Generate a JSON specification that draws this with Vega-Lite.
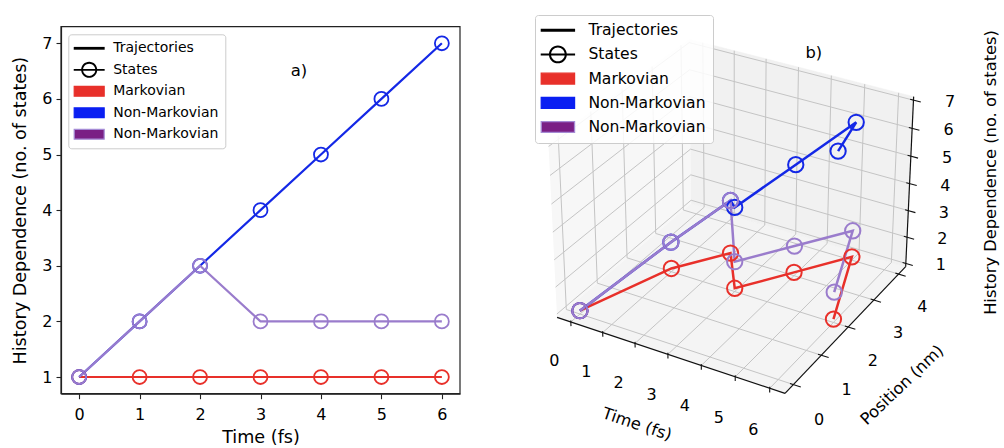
{
  "$schema": "https://vega.github.io/schema/vega-lite/v6.json",
  "width": 1004,
  "height": 448,
  "autosize": {"type": "none"},
  "padding": 0,
  "background": "#ffffff",
  "config": {
    "font": "DejaVu Sans",
    "view": {"stroke": null},
    "legend": {"labelFont": "DejaVu Sans", "labelColor": "#000000", "labelLimit": 400, "gridAlign": "all"}
  },
  "datasets": {
    "traj": [
      {"series": "Markovian", "time": 0, "pos": 0, "hist": 1},
      {"series": "Markovian", "time": 1, "pos": 2, "hist": 1},
      {"series": "Markovian", "time": 2, "pos": 3, "hist": 1},
      {"series": "Markovian", "time": 3, "pos": 2, "hist": 1},
      {"series": "Markovian", "time": 4, "pos": 3, "hist": 1},
      {"series": "Markovian", "time": 5, "pos": 4, "hist": 1},
      {"series": "Markovian", "time": 6, "pos": 2, "hist": 1},
      {"series": "Non-Markovian", "time": 0, "pos": 0, "hist": 1},
      {"series": "Non-Markovian", "time": 1, "pos": 2, "hist": 2},
      {"series": "Non-Markovian", "time": 2, "pos": 3, "hist": 3},
      {"series": "Non-Markovian", "time": 3, "pos": 2, "hist": 4},
      {"series": "Non-Markovian", "time": 4, "pos": 3, "hist": 5},
      {"series": "Non-Markovian", "time": 5, "pos": 4, "hist": 6},
      {"series": "Non-Markovian", "time": 6, "pos": 2, "hist": 7},
      {"series": "Non-Markovian 2", "time": 0, "pos": 0, "hist": 1},
      {"series": "Non-Markovian 2", "time": 1, "pos": 2, "hist": 2},
      {"series": "Non-Markovian 2", "time": 2, "pos": 3, "hist": 3},
      {"series": "Non-Markovian 2", "time": 3, "pos": 2, "hist": 2},
      {"series": "Non-Markovian 2", "time": 4, "pos": 3, "hist": 2},
      {"series": "Non-Markovian 2", "time": 5, "pos": 4, "hist": 2},
      {"series": "Non-Markovian 2", "time": 6, "pos": 2, "hist": 2}
    ],
    "ticks": [
      {"axis": "t", "v": 0}, {"axis": "t", "v": 1}, {"axis": "t", "v": 2}, {"axis": "t", "v": 3},
      {"axis": "t", "v": 4}, {"axis": "t", "v": 5}, {"axis": "t", "v": 6},
      {"axis": "p", "v": 0}, {"axis": "p", "v": 1}, {"axis": "p", "v": 2}, {"axis": "p", "v": 3}, {"axis": "p", "v": 4},
      {"axis": "z", "v": 1}, {"axis": "z", "v": 2}, {"axis": "z", "v": 3}, {"axis": "z", "v": 4},
      {"axis": "z", "v": 5}, {"axis": "z", "v": 6}, {"axis": "z", "v": 7}
    ],
    "panes": [{"pane": "floor"}, {"pane": "wallx"}, {"pane": "wally"}],
    "axes3d": [{"axis": "t"}, {"axis": "p"}, {"axis": "z"}],
    "titles3d": [
      {"text": "Time (fs)", "axis": "t"},
      {"text": "Position (nm)", "axis": "p"},
      {"text": "History Dependence (no. of states)", "axis": "z"},
      {"text": "b)", "axis": "label"}
    ]
  },
  "layer": [
    {
      "data": {"name": "traj"},
      "layer": [
        {
          "data": {"values": [{}]},
          "mark": {"type": "rect", "filled": false, "color": "#222222", "strokeWidth": 1.2},
          "encoding": {
            "x": {"datum": -0.3, "type": "quantitative",
              "scale": {"domain": [-0.3, 6.3], "range": [61, 460], "nice": false, "zero": false},
              "axis": {"title": "Time (fs)", "values": [0, 1, 2, 3, 4, 5, 6], "format": "d", "offset": -54.3, "grid": false, "domainColor": "#222222", "domainWidth": 1.2, "tickColor": "#222222", "tickWidth": 1.1, "tickSize": 5, "labelFontSize": 16, "labelColor": "#000000", "labelPadding": 7.5, "labelFlush": false, "labelOverlap": false, "titleFontSize": 17.6, "titleFontWeight": "normal", "titleColor": "#000000", "titlePadding": 6.5}},
            "x2": {"datum": 6.3},
            "y": {"datum": 0.7, "type": "quantitative",
              "scale": {"domain": [0.7, 7.3], "range": [393.7, 26.6], "nice": false, "zero": false},
              "axis": {"title": "History Dependence (no. of states)", "values": [1, 2, 3, 4, 5, 6, 7], "format": "d", "offset": -61, "grid": false, "domainColor": "#222222", "domainWidth": 1.2, "tickColor": "#222222", "tickWidth": 1.1, "tickSize": 5, "labelFontSize": 16, "labelColor": "#000000", "labelPadding": 4, "labelOverlap": false, "titleFontSize": 17.6, "titleFontWeight": "normal", "titleColor": "#000000", "titlePadding": 12.5}},
            "y2": {"datum": 7.3}
          }
        },
        {
          "mark": {"type": "line", "strokeWidth": 2.2},
          "encoding": {
            "x": {"field": "time", "type": "quantitative"},
            "y": {"field": "hist", "type": "quantitative"},
            "color": {"field": "series", "type": "nominal", "legend": null,
              "scale": {"domain": ["Markovian", "Non-Markovian", "Non-Markovian 2"], "range": ["#e8302a", "#1428e6", "#9a7ccc"]}},
            "order": {"field": "time"}
          }
        },
        {
          "mark": {"type": "point", "shape": "circle", "filled": false, "opacity": 1, "size": 195, "strokeWidth": 1.8},
          "encoding": {
            "x": {"field": "time", "type": "quantitative"},
            "y": {"field": "hist", "type": "quantitative"},
            "color": {"field": "series", "type": "nominal", "legend": null,
              "scale": {"domain": ["Markovian", "Non-Markovian", "Non-Markovian 2"], "range": ["#e8302a", "#1428e6", "#9a7ccc"]}}
          }
        },
        {
          "data": {"values": [{}]},
          "mark": {"type": "text", "align": "left", "baseline": "middle", "fontSize": 16.5, "color": "#000000"},
          "encoding": {
            "x": {"datum": 3.5, "type": "quantitative"},
            "y": {"datum": 6.5, "type": "quantitative"},
            "text": {"value": "a)"}
          }
        },
        {
          "transform": [{"filter": "false"}],
          "mark": {"type": "point", "opacity": 1},
          "encoding": {
            "fill": {"field": "series", "type": "nominal",
              "scale": {"domain": ["Trajectories", "States", "Markovian", "Non-Markovian", "Non-Markovian 2"], "range": ["#000000", "#000000", "#e8302a", "#0a1ff2", "#7a1f85"]},
              "legend": {"orient": "none", "legendX": 68.3, "legendY": 34.3, "title": null, "symbolSize": 196, "symbolStrokeWidth": 1.2, "symbolFillColor": "transparent", "symbolStrokeColor": "transparent", "labelFontSize": 14, "padding": 6, "rowPadding": -0.5, "labelOffset": 16, "symbolOffset": 6.9, "fillColor": "rgba(255,255,255,0.85)", "strokeColor": "#cccccc", "cornerRadius": 3, "labelExpr": "datum.label == 'Non-Markovian 2' ? 'Non-Markovian' : datum.label"}},
            "stroke": {"field": "series", "type": "nominal",
              "scale": {"domain": ["Trajectories", "States", "Markovian", "Non-Markovian", "Non-Markovian 2"], "range": ["transparent", "transparent", "#e8302a", "#0a1ff2", "#a58bd5"]},
              "legend": {"orient": "none", "legendX": 68.3, "legendY": 34.3, "title": null, "symbolSize": 196, "symbolStrokeWidth": 1.2, "symbolFillColor": "transparent", "symbolStrokeColor": "transparent", "labelFontSize": 14, "padding": 6, "rowPadding": -0.5, "labelOffset": 16, "symbolOffset": 6.9, "fillColor": "rgba(255,255,255,0.85)", "strokeColor": "#cccccc", "cornerRadius": 3, "labelExpr": "datum.label == 'Non-Markovian 2' ? 'Non-Markovian' : datum.label"}},
            "shape": {"field": "series", "type": "nominal",
              "scale": {"domain": ["Trajectories", "States", "Markovian", "Non-Markovian", "Non-Markovian 2"], "range": ["M-2.21,-0.2H2.21V0.2H-2.21Z", "M1.15,0A1.15,1.15 0 1,1 -1.15,0A1.15,1.15 0 1,1 1.15,0Z M0.88,0A0.88,0.88 0 1,0 -0.88,0A0.88,0.88 0 1,0 0.88,0Z M-2.21,-0.13H2.21V0.13H-2.21Z", "M-2.14,-0.7H2.14V0.7H-2.14Z", "M-2.14,-0.7H2.14V0.7H-2.14Z", "M-2.14,-0.7H2.14V0.7H-2.14Z"]},
              "legend": {"orient": "none", "legendX": 68.3, "legendY": 34.3, "title": null, "symbolSize": 196, "symbolStrokeWidth": 1.2, "symbolFillColor": "transparent", "symbolStrokeColor": "transparent", "labelFontSize": 14, "padding": 6, "rowPadding": -0.5, "labelOffset": 16, "symbolOffset": 6.9, "fillColor": "rgba(255,255,255,0.85)", "strokeColor": "#cccccc", "cornerRadius": 3, "labelExpr": "datum.label == 'Non-Markovian 2' ? 'Non-Markovian' : datum.label"}}
          }
        }
      ]
    },
    {
      "layer": [
        {
          "data": {"name": "panes"},
          "transform": [
            {"filter": "datum.pane == 'floor'"},
            {"calculate": "[0,1,2,3]", "as": "ks"},
            {"flatten": ["ks"], "as": ["k"]},
            {"calculate": "(datum.k == 1 || datum.k == 2) ? 6.4375 : -0.4375", "as": "time"},
            {"calculate": "datum.k >= 2 ? 4.2917 : -0.2917", "as": "pos"},
            {"calculate": "0.875", "as": "hist"},
            {"calculate": "(datum.time + 0.3) / 6.6 * 1.1905 - 0.59525", "as": "qx"},
            {"calculate": "(datum.pos + 0.2) / 4.4 * 1.1905 - 0.59525", "as": "qy"},
            {"calculate": "(datum.hist - 1) / 6 * 0.8929 - 0.44645", "as": "qz"},
            {"calculate": "10 - (0.4330127 * datum.qx - 0.75 * datum.qy + 0.5 * datum.qz)", "as": "den"},
            {"calculate": "(0.8660254 * datum.qx + 0.5 * datum.qy) / datum.den", "as": "px"},
            {"calculate": "(-0.25 * datum.qx + 0.4330127 * datum.qy + 0.8660254 * datum.qz) / datum.den", "as": "py"}
          ],
          "mark": {"type": "line", "fill": "#f4f4f4", "stroke": "#f4f4f4", "strokeWidth": 0.5},
          "encoding": {
            "x": {"field": "px", "type": "quantitative", "scale": {"domain": [-0.34903, 0.12793], "range": [0, 1004], "nice": false, "zero": false}, "axis": null},
            "y": {"field": "py", "type": "quantitative", "scale": {"domain": [-0.112535, 0.097007], "range": [448, 0], "nice": false, "zero": false}, "axis": null},
            "order": {"field": "k"}
          }
        },
        {
          "data": {"name": "panes"},
          "transform": [
            {"filter": "datum.pane == 'wallx'"},
            {"calculate": "[0,1,2,3]", "as": "ks"},
            {"flatten": ["ks"], "as": ["k"]},
            {"calculate": "-0.4375", "as": "time"},
            {"calculate": "(datum.k == 1 || datum.k == 2) ? 4.2917 : -0.2917", "as": "pos"},
            {"calculate": "datum.k >= 2 ? 7.125 : 0.875", "as": "hist"},
            {"calculate": "(datum.time + 0.3) / 6.6 * 1.1905 - 0.59525", "as": "qx"},
            {"calculate": "(datum.pos + 0.2) / 4.4 * 1.1905 - 0.59525", "as": "qy"},
            {"calculate": "(datum.hist - 1) / 6 * 0.8929 - 0.44645", "as": "qz"},
            {"calculate": "10 - (0.4330127 * datum.qx - 0.75 * datum.qy + 0.5 * datum.qz)", "as": "den"},
            {"calculate": "(0.8660254 * datum.qx + 0.5 * datum.qy) / datum.den", "as": "px"},
            {"calculate": "(-0.25 * datum.qx + 0.4330127 * datum.qy + 0.8660254 * datum.qz) / datum.den", "as": "py"}
          ],
          "mark": {"type": "line", "fill": "#f7f7f7", "stroke": "#f7f7f7", "strokeWidth": 0.5},
          "encoding": {
            "x": {"field": "px", "type": "quantitative", "scale": {"domain": [-0.34903, 0.12793], "range": [0, 1004], "nice": false, "zero": false}, "axis": null},
            "y": {"field": "py", "type": "quantitative", "scale": {"domain": [-0.112535, 0.097007], "range": [448, 0], "nice": false, "zero": false}, "axis": null},
            "order": {"field": "k"}
          }
        },
        {
          "data": {"name": "panes"},
          "transform": [
            {"filter": "datum.pane == 'wally'"},
            {"calculate": "[0,1,2,3]", "as": "ks"},
            {"flatten": ["ks"], "as": ["k"]},
            {"calculate": "(datum.k == 1 || datum.k == 2) ? 6.4375 : -0.4375", "as": "time"},
            {"calculate": "4.2917", "as": "pos"},
            {"calculate": "datum.k >= 2 ? 7.125 : 0.875", "as": "hist"},
            {"calculate": "(datum.time + 0.3) / 6.6 * 1.1905 - 0.59525", "as": "qx"},
            {"calculate": "(datum.pos + 0.2) / 4.4 * 1.1905 - 0.59525", "as": "qy"},
            {"calculate": "(datum.hist - 1) / 6 * 0.8929 - 0.44645", "as": "qz"},
            {"calculate": "10 - (0.4330127 * datum.qx - 0.75 * datum.qy + 0.5 * datum.qz)", "as": "den"},
            {"calculate": "(0.8660254 * datum.qx + 0.5 * datum.qy) / datum.den", "as": "px"},
            {"calculate": "(-0.25 * datum.qx + 0.4330127 * datum.qy + 0.8660254 * datum.qz) / datum.den", "as": "py"}
          ],
          "mark": {"type": "line", "fill": "#f1f1f1", "stroke": "#f1f1f1", "strokeWidth": 0.5},
          "encoding": {
            "x": {"field": "px", "type": "quantitative", "scale": {"domain": [-0.34903, 0.12793], "range": [0, 1004], "nice": false, "zero": false}, "axis": null},
            "y": {"field": "py", "type": "quantitative", "scale": {"domain": [-0.112535, 0.097007], "range": [448, 0], "nice": false, "zero": false}, "axis": null},
            "order": {"field": "k"}
          }
        },
        {
          "data": {"name": "ticks"},
          "transform": [
            {"calculate": "[0,1,2]", "as": "ks"},
            {"flatten": ["ks"], "as": ["k"]},
            {"calculate": "datum.axis + '_' + datum.v", "as": "gid"},
            {"calculate": "datum.axis == 't' ? datum.v : (datum.axis == 'p' ? (datum.k == 0 ? 6.4375 : -0.4375) : (datum.k == 2 ? 6.4375 : -0.4375))", "as": "time"},
            {"calculate": "datum.axis == 'p' ? datum.v : (datum.k == 0 ? -0.2917 : 4.2917)", "as": "pos"},
            {"calculate": "datum.axis == 'z' ? datum.v : (datum.k == 2 ? 7.125 : 0.875)", "as": "hist"},
            {"calculate": "(datum.time + 0.3) / 6.6 * 1.1905 - 0.59525", "as": "qx"},
            {"calculate": "(datum.pos + 0.2) / 4.4 * 1.1905 - 0.59525", "as": "qy"},
            {"calculate": "(datum.hist - 1) / 6 * 0.8929 - 0.44645", "as": "qz"},
            {"calculate": "10 - (0.4330127 * datum.qx - 0.75 * datum.qy + 0.5 * datum.qz)", "as": "den"},
            {"calculate": "(0.8660254 * datum.qx + 0.5 * datum.qy) / datum.den", "as": "px"},
            {"calculate": "(-0.25 * datum.qx + 0.4330127 * datum.qy + 0.8660254 * datum.qz) / datum.den", "as": "py"}
          ],
          "mark": {"type": "line", "color": "#c4c4c4", "strokeWidth": 1},
          "encoding": {
            "x": {"field": "px", "type": "quantitative", "scale": {"domain": [-0.34903, 0.12793], "range": [0, 1004], "nice": false, "zero": false}, "axis": null},
            "y": {"field": "py", "type": "quantitative", "scale": {"domain": [-0.112535, 0.097007], "range": [448, 0], "nice": false, "zero": false}, "axis": null},
            "detail": {"field": "gid"},
            "order": {"field": "k"}
          }
        },
        {
          "data": {"name": "axes3d"},
          "transform": [
            {"calculate": "[0,1]", "as": "ks"},
            {"flatten": ["ks"], "as": ["k"]},
            {"calculate": "datum.axis == 't' ? (datum.k == 0 ? -0.4375 : 6.4375) : 6.4375", "as": "time"},
            {"calculate": "datum.axis == 'p' ? (datum.k == 0 ? -0.2917 : 4.2917) : (datum.axis == 't' ? -0.2917 : 4.2917)", "as": "pos"},
            {"calculate": "datum.axis == 'z' ? (datum.k == 0 ? 0.875 : 7.125) : 0.875", "as": "hist"},
            {"calculate": "(datum.time + 0.3) / 6.6 * 1.1905 - 0.59525", "as": "qx"},
            {"calculate": "(datum.pos + 0.2) / 4.4 * 1.1905 - 0.59525", "as": "qy"},
            {"calculate": "(datum.hist - 1) / 6 * 0.8929 - 0.44645", "as": "qz"},
            {"calculate": "10 - (0.4330127 * datum.qx - 0.75 * datum.qy + 0.5 * datum.qz)", "as": "den"},
            {"calculate": "(0.8660254 * datum.qx + 0.5 * datum.qy) / datum.den", "as": "px"},
            {"calculate": "(-0.25 * datum.qx + 0.4330127 * datum.qy + 0.8660254 * datum.qz) / datum.den", "as": "py"}
          ],
          "mark": {"type": "line", "color": "#111111", "strokeWidth": 1.2},
          "encoding": {
            "x": {"field": "px", "type": "quantitative", "scale": {"domain": [-0.34903, 0.12793], "range": [0, 1004], "nice": false, "zero": false}, "axis": null},
            "y": {"field": "py", "type": "quantitative", "scale": {"domain": [-0.112535, 0.097007], "range": [448, 0], "nice": false, "zero": false}, "axis": null},
            "detail": {"field": "axis"},
            "order": {"field": "k"}
          }
        },
        {
          "data": {"name": "ticks"},
          "transform": [
            {"calculate": "[0,1]", "as": "ks"},
            {"flatten": ["ks"], "as": ["k"]},
            {"calculate": "datum.axis + '_' + datum.v", "as": "gid"},
            {"calculate": "datum.axis == 't' ? datum.v : (datum.k == 0 ? 6.34 : 6.65)", "as": "time"},
            {"calculate": "datum.axis == 't' ? -0.2917 : (datum.axis == 'p' ? datum.v : 4.2917)", "as": "pos"},
            {"calculate": "datum.axis == 't' ? (datum.k == 0 ? 0.72 : 0.93) : (datum.axis == 'p' ? 0.875 : datum.v)", "as": "hist"},
            {"calculate": "(datum.time + 0.3) / 6.6 * 1.1905 - 0.59525", "as": "qx"},
            {"calculate": "(datum.pos + 0.2) / 4.4 * 1.1905 - 0.59525", "as": "qy"},
            {"calculate": "(datum.hist - 1) / 6 * 0.8929 - 0.44645", "as": "qz"},
            {"calculate": "10 - (0.4330127 * datum.qx - 0.75 * datum.qy + 0.5 * datum.qz)", "as": "den"},
            {"calculate": "(0.8660254 * datum.qx + 0.5 * datum.qy) / datum.den", "as": "px"},
            {"calculate": "(-0.25 * datum.qx + 0.4330127 * datum.qy + 0.8660254 * datum.qz) / datum.den", "as": "py"}
          ],
          "mark": {"type": "line", "color": "#111111", "strokeWidth": 1.1},
          "encoding": {
            "x": {"field": "px", "type": "quantitative", "scale": {"domain": [-0.34903, 0.12793], "range": [0, 1004], "nice": false, "zero": false}, "axis": null},
            "y": {"field": "py", "type": "quantitative", "scale": {"domain": [-0.112535, 0.097007], "range": [448, 0], "nice": false, "zero": false}, "axis": null},
            "detail": {"field": "gid"},
            "order": {"field": "k"}
          }
        },
        {
          "data": {"name": "ticks"},
          "transform": [
            {"calculate": "datum.axis == 't' ? datum.v : (datum.axis == 'p' ? 7.19 : 7.27)", "as": "time"},
            {"calculate": "datum.axis == 't' ? -0.84 : (datum.axis == 'p' ? datum.v : 4.62)", "as": "pos"},
            {"calculate": "datum.axis == 't' ? -0.03 : (datum.axis == 'p' ? -0.1 : datum.v - 0.08)", "as": "hist"},
            {"calculate": "(datum.time + 0.3) / 6.6 * 1.1905 - 0.59525", "as": "qx"},
            {"calculate": "(datum.pos + 0.2) / 4.4 * 1.1905 - 0.59525", "as": "qy"},
            {"calculate": "(datum.hist - 1) / 6 * 0.8929 - 0.44645", "as": "qz"},
            {"calculate": "10 - (0.4330127 * datum.qx - 0.75 * datum.qy + 0.5 * datum.qz)", "as": "den"},
            {"calculate": "(0.8660254 * datum.qx + 0.5 * datum.qy) / datum.den", "as": "px"},
            {"calculate": "(-0.25 * datum.qx + 0.4330127 * datum.qy + 0.8660254 * datum.qz) / datum.den", "as": "py"}
          ],
          "mark": {"type": "text", "align": "center", "baseline": "middle", "fontSize": 16, "color": "#000000"},
          "encoding": {
            "x": {"field": "px", "type": "quantitative", "scale": {"domain": [-0.34903, 0.12793], "range": [0, 1004], "nice": false, "zero": false}, "axis": null},
            "y": {"field": "py", "type": "quantitative", "scale": {"domain": [-0.112535, 0.097007], "range": [448, 0], "nice": false, "zero": false}, "axis": null},
            "text": {"field": "v", "type": "quantitative", "format": "d"}
          }
        },
        {
          "data": {"name": "titles3d"},
          "transform": [
            {"calculate": "datum.axis == 't' ? 3.1 : (datum.axis == 'p' ? 8.07 : (datum.axis == 'z' ? 8.08 : 3.45))", "as": "time"},
            {"calculate": "datum.axis == 't' ? -1.42 : (datum.axis == 'p' ? 2 : (datum.axis == 'z' ? 5.39 : 4.3))", "as": "pos"},
            {"calculate": "datum.axis == 't' ? -0.44 : (datum.axis == 'p' ? -0.645 : (datum.axis == 'z' ? 4 : 7.77))", "as": "hist"},
            {"calculate": "datum.axis == 't' ? 18.6 : (datum.axis == 'p' ? -43.5 : (datum.axis == 'z' ? -90 : 0))", "as": "ang"},
            {"calculate": "(datum.time + 0.3) / 6.6 * 1.1905 - 0.59525", "as": "qx"},
            {"calculate": "(datum.pos + 0.2) / 4.4 * 1.1905 - 0.59525", "as": "qy"},
            {"calculate": "(datum.hist - 1) / 6 * 0.8929 - 0.44645", "as": "qz"},
            {"calculate": "10 - (0.4330127 * datum.qx - 0.75 * datum.qy + 0.5 * datum.qz)", "as": "den"},
            {"calculate": "(0.8660254 * datum.qx + 0.5 * datum.qy) / datum.den", "as": "px"},
            {"calculate": "(-0.25 * datum.qx + 0.4330127 * datum.qy + 0.8660254 * datum.qz) / datum.den", "as": "py"}
          ],
          "mark": {"type": "text", "align": "center", "baseline": "middle", "fontSize": 16.3, "color": "#000000"},
          "encoding": {
            "x": {"field": "px", "type": "quantitative", "scale": {"domain": [-0.34903, 0.12793], "range": [0, 1004], "nice": false, "zero": false}, "axis": null},
            "y": {"field": "py", "type": "quantitative", "scale": {"domain": [-0.112535, 0.097007], "range": [448, 0], "nice": false, "zero": false}, "axis": null},
            "text": {"field": "text"},
            "angle": {"field": "ang", "type": "quantitative", "scale": null}
          }
        },
        {
          "data": {"name": "traj"},
          "transform": [
            {"calculate": "(datum.time + 0.3) / 6.6 * 1.1905 - 0.59525", "as": "qx"},
            {"calculate": "(datum.pos + 0.2) / 4.4 * 1.1905 - 0.59525", "as": "qy"},
            {"calculate": "(datum.hist - 1) / 6 * 0.8929 - 0.44645", "as": "qz"},
            {"calculate": "10 - (0.4330127 * datum.qx - 0.75 * datum.qy + 0.5 * datum.qz)", "as": "den"},
            {"calculate": "(0.8660254 * datum.qx + 0.5 * datum.qy) / datum.den", "as": "px"},
            {"calculate": "(-0.25 * datum.qx + 0.4330127 * datum.qy + 0.8660254 * datum.qz) / datum.den", "as": "py"}
          ],
          "mark": {"type": "line", "strokeWidth": 2.5},
          "encoding": {
            "x": {"field": "px", "type": "quantitative", "scale": {"domain": [-0.34903, 0.12793], "range": [0, 1004], "nice": false, "zero": false}, "axis": null},
            "y": {"field": "py", "type": "quantitative", "scale": {"domain": [-0.112535, 0.097007], "range": [448, 0], "nice": false, "zero": false}, "axis": null},
            "color": {"field": "series", "type": "nominal", "legend": null,
              "scale": {"domain": ["Markovian", "Non-Markovian", "Non-Markovian 2"], "range": ["#e8302a", "#1428e6", "#9a7ccc"]}},
            "order": {"field": "time"}
          }
        },
        {
          "data": {"name": "traj"},
          "transform": [
            {"calculate": "(datum.time + 0.3) / 6.6 * 1.1905 - 0.59525", "as": "qx"},
            {"calculate": "(datum.pos + 0.2) / 4.4 * 1.1905 - 0.59525", "as": "qy"},
            {"calculate": "(datum.hist - 1) / 6 * 0.8929 - 0.44645", "as": "qz"},
            {"calculate": "10 - (0.4330127 * datum.qx - 0.75 * datum.qy + 0.5 * datum.qz)", "as": "den"},
            {"calculate": "(0.8660254 * datum.qx + 0.5 * datum.qy) / datum.den", "as": "px"},
            {"calculate": "(-0.25 * datum.qx + 0.4330127 * datum.qy + 0.8660254 * datum.qz) / datum.den", "as": "py"}
          ],
          "mark": {"type": "point", "shape": "circle", "filled": false, "opacity": 1, "size": 235, "strokeWidth": 2},
          "encoding": {
            "x": {"field": "px", "type": "quantitative", "scale": {"domain": [-0.34903, 0.12793], "range": [0, 1004], "nice": false, "zero": false}, "axis": null},
            "y": {"field": "py", "type": "quantitative", "scale": {"domain": [-0.112535, 0.097007], "range": [448, 0], "nice": false, "zero": false}, "axis": null},
            "color": {"field": "series", "type": "nominal", "legend": null,
              "scale": {"domain": ["Markovian", "Non-Markovian", "Non-Markovian 2"], "range": ["#e8302a", "#1428e6", "#9a7ccc"]}}
          }
        },
        {
          "data": {"name": "traj"},
          "transform": [{"filter": "false"}],
          "mark": {"type": "point", "opacity": 1},
          "encoding": {
            "fill": {"field": "series", "type": "nominal",
              "scale": {"domain": ["Trajectories", "States", "Markovian", "Non-Markovian", "Non-Markovian 2"], "range": ["#000000", "#000000", "#e8302a", "#0a1ff2", "#7a1f85"]},
              "legend": {"orient": "none", "legendX": 535, "legendY": 15, "title": null, "symbolSize": 242, "symbolStrokeWidth": 1.3, "symbolFillColor": "transparent", "symbolStrokeColor": "transparent", "labelFontSize": 15.6, "padding": 6.7, "rowPadding": -0.8, "labelOffset": 22, "symbolOffset": 7.7, "fillColor": "rgba(255,255,255,0.85)", "strokeColor": "#cccccc", "cornerRadius": 3, "labelExpr": "datum.label == 'Non-Markovian 2' ? 'Non-Markovian' : datum.label"}},
            "stroke": {"field": "series", "type": "nominal",
              "scale": {"domain": ["Trajectories", "States", "Markovian", "Non-Markovian", "Non-Markovian 2"], "range": ["transparent", "transparent", "#e8302a", "#0a1ff2", "#a58bd5"]},
              "legend": {"orient": "none", "legendX": 535, "legendY": 15, "title": null, "symbolSize": 242, "symbolStrokeWidth": 1.3, "symbolFillColor": "transparent", "symbolStrokeColor": "transparent", "labelFontSize": 15.6, "padding": 6.7, "rowPadding": -0.8, "labelOffset": 22, "symbolOffset": 7.7, "fillColor": "rgba(255,255,255,0.85)", "strokeColor": "#cccccc", "cornerRadius": 3, "labelExpr": "datum.label == 'Non-Markovian 2' ? 'Non-Markovian' : datum.label"}},
            "shape": {"field": "series", "type": "nominal",
              "scale": {"domain": ["Trajectories", "States", "Markovian", "Non-Markovian", "Non-Markovian 2"], "range": ["M-2.21,-0.2H2.21V0.2H-2.21Z", "M1.15,0A1.15,1.15 0 1,1 -1.15,0A1.15,1.15 0 1,1 1.15,0Z M0.88,0A0.88,0.88 0 1,0 -0.88,0A0.88,0.88 0 1,0 0.88,0Z M-2.21,-0.13H2.21V0.13H-2.21Z", "M-2.14,-0.7H2.14V0.7H-2.14Z", "M-2.14,-0.7H2.14V0.7H-2.14Z", "M-2.14,-0.7H2.14V0.7H-2.14Z"]},
              "legend": {"orient": "none", "legendX": 535, "legendY": 15, "title": null, "symbolSize": 242, "symbolStrokeWidth": 1.3, "symbolFillColor": "transparent", "symbolStrokeColor": "transparent", "labelFontSize": 15.6, "padding": 6.7, "rowPadding": -0.8, "labelOffset": 22, "symbolOffset": 7.7, "fillColor": "rgba(255,255,255,0.85)", "strokeColor": "#cccccc", "cornerRadius": 3, "labelExpr": "datum.label == 'Non-Markovian 2' ? 'Non-Markovian' : datum.label"}}
          }
        }
      ]
    }
  ],
  "resolve": {
    "scale": {"x": "independent", "y": "independent", "color": "independent", "fill": "independent", "stroke": "independent", "shape": "independent"}
  }
}
